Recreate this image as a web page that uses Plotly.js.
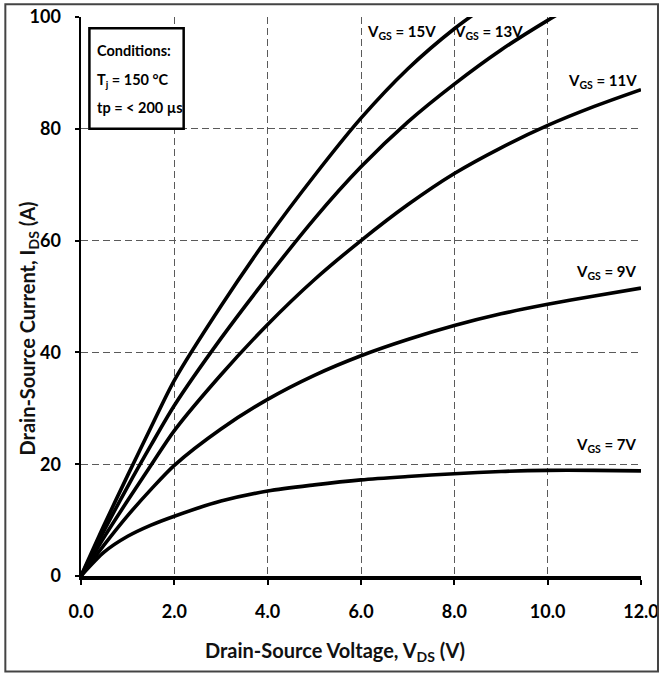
<!DOCTYPE html>
<html>
<head>
<meta charset="utf-8">
<script src="https://cdn.plot.ly/plotly-3.0.1.min.js"></script>
<style>html,body{margin:0;padding:0;background:#fff;}#chart{width:659px;height:673px;}</style>
</head>
<body>
<div id="chart"></div>
<script>
// Drain-source voltage (V)
const vds = [0, 0.5, 1, 1.5, 2, 3, 4, 5, 6, 7, 8, 9, 10, 11, 12];
// Drain-source current (A) per gate voltage
const vgs15 = {x: [0, 0.5, 1, 1.5, 2, 3, 4, 5, 6, 7, 8, 9], y: [0, 9.2, 18, 26.6, 35, 48.3, 60.5, 71.6, 81.9, 90.7, 97.9, 103.9]};
const vgs13 = {x: [0, 0.5, 1, 1.5, 2, 3, 4, 5, 6, 7, 8, 9, 10, 11], y: [0, 8.2, 16, 23.4, 30.5, 42.5, 53.5, 63.9, 73.2, 81.2, 88, 94.1, 99.4, 104.2]};
const vgs11 = [0, 7, 13.5, 19.8, 26, 36, 45, 53, 60, 66.4, 72, 76.6, 80.6, 84, 87];
const vgs9  = [0, 5.6, 10.8, 15.5, 19.8, 26.3, 31.6, 35.9, 39.4, 42.3, 44.8, 46.9, 48.6, 50.1, 51.5];
const vgs7  = [0, 4.3, 7.1, 9.1, 10.7, 13.4, 15.2, 16.3, 17.2, 17.8, 18.3, 18.7, 18.9, 18.9, 18.8];
const curveLabels = ['V<sub>GS</sub> = 15V', 'V<sub>GS</sub> = 13V', 'V<sub>GS</sub> = 11V', 'V<sub>GS</sub> = 9V', 'V<sub>GS</sub> = 7V'];
const labelPos = [[6.86, 97.3], [8.73, 97.3], [11.95, 88.6], [11.95, 54.3], [11.95, 23.5]];
const condLines = ['Conditions:', 'T<sub>j</sub> = 150 °C', 'tp = < 200 µs'];
const condY = [94, 88.7, 83.9];
const xTicks = [0, 2, 4, 6, 8, 10, 12];
const xTickText = ['0.0', '2.0', '4.0', '6.0', '8.0', '10.0', '12.0'];
const yTicks = [0, 20, 40, 60, 80, 100];

const FONT = 'Lato, "DejaVu Sans Condensed", sans-serif';
const line = {color: '#000', width: 3.6, shape: 'spline', smoothing: 0.8};
const traces = [
  {x: vgs15.x, y: vgs15.y},
  {x: vgs13.x, y: vgs13.y},
  {x: vds, y: vgs11},
  {x: vds, y: vgs9},
  {x: vds, y: vgs7}
].map(t => Object.assign(t, {type: 'scatter', mode: 'lines', line: line, hoverinfo: 'skip'}));

const annotations = [];
curveLabels.forEach((t, i) => {
  const right = i >= 2;
  annotations.push({x: labelPos[i][0], y: labelPos[i][1], xref: 'x', yref: 'y', text: t, showarrow: false,
    xanchor: right ? 'right' : 'center', yanchor: 'middle', font: {family: FONT, size: 15, color: '#000', weight: 'bold'}});
});
condLines.forEach((t, i) => {
  annotations.push({x: 0.29, y: condY[i], xref: 'x', yref: 'y', text: t, showarrow: false,
    xanchor: 'left', yanchor: 'middle', font: {family: FONT, size: 14.5, color: '#000', weight: 'bold'}});
});
annotations.push({x: (335 - 80.7) / 560.3, y: (576 - 652) / 559.3, xref: 'paper', yref: 'paper',
  text: 'Drain-Source Voltage, V<sub>DS</sub> (V)', showarrow: false, xanchor: 'center', yanchor: 'middle',
  font: {family: FONT, size: 20, color: '#111', weight: 'bold'}});
annotations.push({x: (28 - 80.7) / 560.3, y: (576 - 328) / 559.3, xref: 'paper', yref: 'paper',
  text: 'Drain-Source Current, I<sub>DS</sub> (A)', showarrow: false, textangle: -90, xanchor: 'center', yanchor: 'middle',
  font: {family: FONT, size: 20, color: '#111', weight: 'bold'}});

const shapes = [
  {type: 'rect', xref: 'x', yref: 'y', x0: 0.18, x1: 2.2, y0: 80, y1: 98, line: {color: '#000', width: 2.5}, fillcolor: '#fff', layer: 'above'},
  {type: 'rect', xref: 'paper', yref: 'paper', x0: (5 - 80.7) / 560.3, x1: (658 - 80.7) / 560.3,
    y0: (576 - 671.5) / 559.3, y1: (576 - 4) / 559.3, line: {color: '#444', width: 2}}
];

const layout = {
  width: 659, height: 673,
  margin: {l: 80.7, r: 18, t: 16.7, b: 97, pad: 0},
  paper_bgcolor: '#fff', plot_bgcolor: '#fff',
  showlegend: false,
  font: {family: FONT, color: '#000'},
  xaxis: {range: [0, 12], tickvals: xTicks, ticktext: xTickText, showgrid: true, gridcolor: '#5a5a5a', griddash: '7px,4px', gridwidth: 1,
    zeroline: false, showline: true, linecolor: '#000', linewidth: 3.5, ticks: 'outside', ticklen: 5, tickwidth: 2, tickcolor: '#000',
    tickfont: {family: FONT, size: 18, color: '#000', weight: 'bold'}, ticklabelstandoff: 12, ticklabeloverflow: 'allow', fixedrange: true},
  yaxis: {range: [0, 100], tickvals: yTicks, showgrid: true, gridcolor: '#5a5a5a', griddash: '7px,4px', gridwidth: 1,
    zeroline: false, showline: true, linecolor: '#000', linewidth: 2.5, ticks: 'outside', ticklen: 4, tickwidth: 2, tickcolor: '#000',
    tickfont: {family: FONT, size: 18, color: '#000', weight: 'bold'}, ticklabelstandoff: 10, fixedrange: true},
  annotations: annotations,
  shapes: shapes
};

Plotly.newPlot('chart', traces, layout, {staticPlot: true, displayModeBar: false});
</script>
</body>
</html>
